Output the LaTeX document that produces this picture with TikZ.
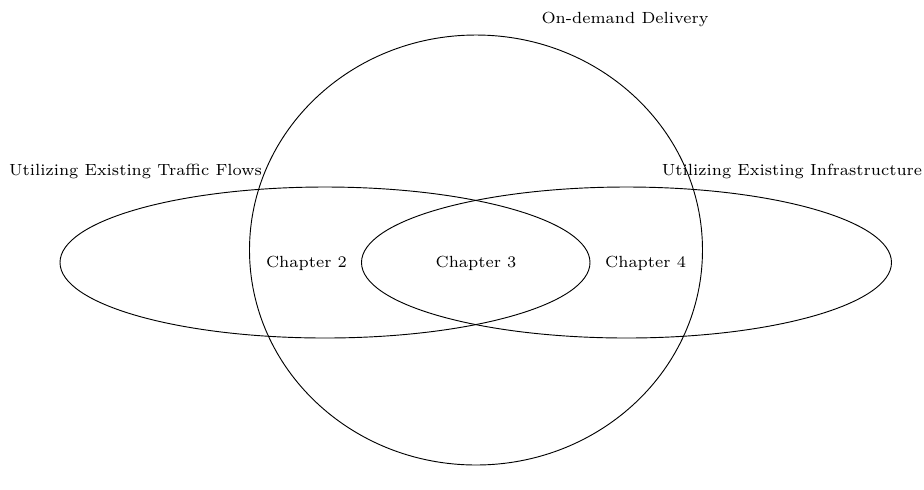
\documentclass[tikz,border=0pt]{standalone}
\usetikzlibrary{positioning}

\begin{document}
\begin{tikzpicture}[
  x=0.433pt, y=-0.433pt,
  label/.style={font=\scriptsize, inner sep=0pt},
  set/.style={draw, line width=0.4pt},
]
  \useasboundingbox (0,0) rectangle (924,489);

  \draw[set] (476,250) ellipse [x radius=226.5, y radius=215];
  \draw[set] (325,262.5) ellipse [x radius=265, y radius=75.5];
  \draw[set] (626.5,262.5) ellipse [x radius=265, y radius=75.5];

  \node[label] (ondemand) at (625,19) {On-demand Delivery};
  \node[label] (traffic) at (135.5,171) {Utilizing Existing Traffic Flows};
  \node[label] (infra) at (792,171) {Utilizing Existing Infrastructure};

  \node[label] (ch3) at (476,263) {Chapter 3};
  \node[label, left=38pt of ch3] (ch2) {Chapter 2};
  \node[label, right=38pt of ch3] (ch4) {Chapter 4};
\end{tikzpicture}
\end{document}
